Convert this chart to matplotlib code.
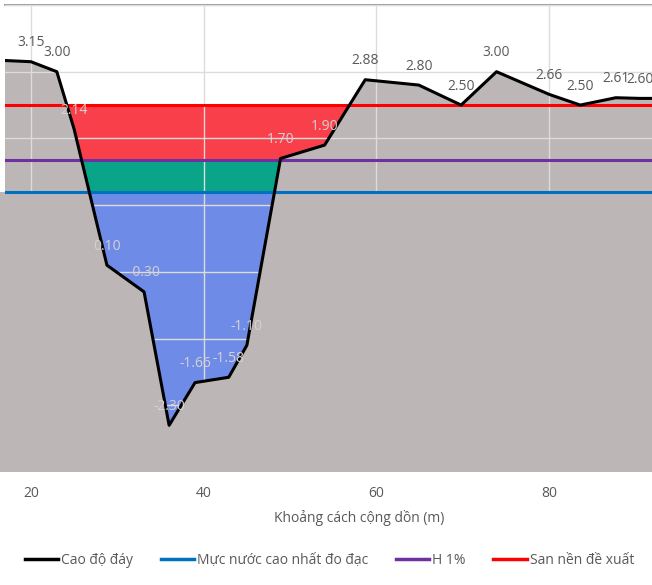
import matplotlib
matplotlib.use('Agg')
import matplotlib.pyplot as plt
from matplotlib.lines import Line2D
from matplotlib.patches import Rectangle

# Cross-section profile (distance in m, bed elevation in m)
dist = [15.0, 20.0, 23.0, 25.0, 28.8, 33.1, 36.0, 39.0, 42.9, 45.0,
        48.9, 54.0, 58.7, 64.9, 69.8, 73.9, 80.0, 83.6, 87.7, 90.5, 94.0]
elev = [3.18, 3.15, 3.00, 2.14, 0.10, -0.30, -2.30, -1.66, -1.58, -1.10,
        1.70, 1.90, 2.88, 2.80, 2.50, 3.00, 2.66, 2.50, 2.61, 2.60, 2.60]

# Reference levels
muc_nuoc = 1.19      # Mực nước cao nhất đo đạc
h1 = 1.67            # H 1%
san_nen = 2.50       # San nền đề xuất

plt.rcParams['font.family'] = ['Open Sans', 'DejaVu Sans']

fig = plt.figure(figsize=(6.52, 5.85), dpi=100)
ax = fig.add_axes([5 / 652, 113 / 585, 647 / 652, 467 / 585])

ymin, ymax = -3, 4
ax.set_xlim(17, 91.9)
ax.set_ylim(ymin, ymax)

# coloured bands (ground covers them outside the channel)
ax.axhspan(h1, san_nen, color='#f9404a', lw=0, zorder=1)
ax.axhspan(muc_nuoc, h1, color='#0aa588', lw=0, zorder=1)
ax.axhspan(ymin, muc_nuoc, color='#6f8be8', lw=0, zorder=1)

# ground
ground_color = '#bcb6b6'
ax.fill_between(dist, elev, ymin, color=ground_color, lw=0, zorder=2)
g2 = ax.fill_between(dist, elev, ymin, color=ground_color, lw=0, zorder=3)
g2.set_clip_path(Rectangle((0, ymin), 200, muc_nuoc - ymin, transform=ax.transData))

# grid
ax.set_axisbelow(False)
ax.set_xticks([20, 40, 60, 80])
ax.set_yticks(range(ymin, ymax + 1))
ax.grid(True, color='#dcdcdc', lw=1.0)
for s in ['left', 'right', 'bottom']:
    ax.spines[s].set_visible(False)
ax.spines['top'].set_color('#a6a6a6')
ax.spines['top'].set_linewidth(1.5)
ax.tick_params(axis='y', length=0, labelleft=False)
ax.tick_params(axis='x', length=0, pad=10, labelsize=10, labelcolor='#595959')

# horizontal levels
ax.axhline(muc_nuoc, color='#0070c0', lw=2.2, zorder=4)
ax.axhline(h1, color='#7030a0', lw=2.2, zorder=4)
ax.axhline(san_nen, color='#ff0000', lw=2.2, zorder=4)

# profile
ax.plot(dist, elev, color='black', lw=2.2, zorder=5)

# data labels
for i, (x, y) in enumerate(zip(dist, elev)):
    in_channel = 3 <= i <= 11
    ax.annotate(f'{y:.2f}', (x, y), xytext=(0, 13.7), textcoords='offset points',
                ha='center', va='center', fontsize=10,
                color='#d6d2d2' if in_channel else '#595959', zorder=6)

fig.text(359 / 652, 1 - 518 / 585, 'Khoảng cách cộng dồn (m)',
         ha='center', va='center', fontsize=10, color='#595959')

handles = [Line2D([], [], color='black', lw=2.5),
           Line2D([], [], color='#0070c0', lw=2.5),
           Line2D([], [], color='#7030a0', lw=2.5),
           Line2D([], [], color='#ff0000', lw=2.5)]
labels = ['Cao độ đáy', 'Mực nước cao nhất đo đạc', 'H 1%', 'San nền đề xuất']
fig.legend(handles, labels, loc='center', bbox_to_anchor=(329.5 / 652, 1 - 560 / 585),
           ncol=4, frameon=False, fontsize=10, labelcolor='#595959',
           handlelength=2.4, handletextpad=0.2, columnspacing=2.0)

fig.savefig('out.png', dpi=100)
